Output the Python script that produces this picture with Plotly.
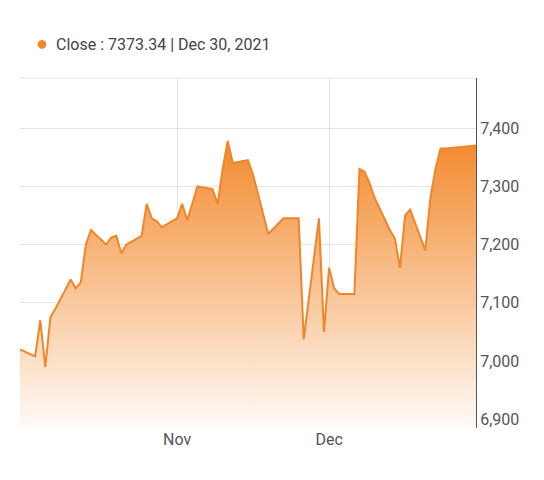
import plotly.graph_objects as go

dates = ["2021-10-01", "2021-10-04", "2021-10-05", "2021-10-06", "2021-10-07", "2021-10-08",
         "2021-10-11", "2021-10-12", "2021-10-13", "2021-10-14", "2021-10-15",
         "2021-10-18", "2021-10-19", "2021-10-20", "2021-10-21", "2021-10-22",
         "2021-10-25", "2021-10-26", "2021-10-27", "2021-10-28", "2021-10-29",
         "2021-11-01", "2021-11-02", "2021-11-03", "2021-11-04", "2021-11-05",
         "2021-11-08", "2021-11-09", "2021-11-10", "2021-11-11", "2021-11-12",
         "2021-11-15", "2021-11-16", "2021-11-19", "2021-11-22", "2021-11-25",
         "2021-11-26", "2021-11-29", "2021-11-30", "2021-12-01", "2021-12-02",
         "2021-12-03", "2021-12-06", "2021-12-07", "2021-12-08", "2021-12-09",
         "2021-12-10", "2021-12-13", "2021-12-14", "2021-12-15", "2021-12-16",
         "2021-12-17", "2021-12-20", "2021-12-21", "2021-12-22", "2021-12-23",
         "2021-12-24", "2021-12-27", "2021-12-28", "2021-12-30"]
close = [7020, 7008, 7070, 6990, 7075, 7090,
         7140, 7125, 7135, 7200, 7225,
         7200, 7212, 7215, 7185, 7200,
         7215, 7270, 7245, 7240, 7230,
         7245, 7270, 7242, 7270, 7300,
         7295, 7270, 7330, 7378, 7340,
         7345, 7320, 7218, 7245, 7245,
         7037, 7245, 7050, 7160, 7125,
         7115, 7115, 7330, 7325, 7305,
         7280, 7225, 7210, 7160, 7250,
         7260, 7190, 7280, 7330, 7365,
         7365, 7368, 7368, 7370]

fig = go.Figure(go.Scatter(
    x=dates, y=close, mode="lines",
    line=dict(color="#f0852a", width=2),
    fill="tozeroy",
    fillgradient=dict(type="vertical", start=6885, stop=7380,
                      colorscale=[[0, "rgba(255,250,246,1)"], [1, "rgba(242,138,46,1)"]]),
    hoverinfo="skip"))

fig.add_annotation(xref="paper", yref="paper", x=0.03, y=1.14, xanchor="left",
                   text="<span style='color:#f0852a;font-size:20px'>●</span>  Close : 7373.34 | Dec 30, 2021",
                   showarrow=False, font=dict(size=16, color="#444"))

fig.update_layout(
    width=544, height=480, plot_bgcolor="white", paper_bgcolor="white",
    margin=dict(l=12, r=76, t=70, b=60, autoexpand=False), showlegend=False,
    font=dict(family="Roboto", size=16, color="#555"),
    xaxis=dict(range=["2021-10-01", "2021-12-30"], tickvals=["2021-10-01", "2021-11-01", "2021-12-01"],
               ticktext=["Oct", "Nov", "Dec"], showgrid=True, gridcolor="#e4e4e4",
               showline=False, zeroline=False, ticks="", automargin=False),
    yaxis=dict(range=[6885, 7486], side="right", tickvals=[6900, 7000, 7100, 7200, 7300, 7400],
               tickformat=",", showgrid=True, gridcolor="#e4e4e4", showline=True, linecolor="#555",
               ticks="", zeroline=False, automargin=False),
)
fig.add_shape(type="line", xref="paper", yref="paper", x0=0, x1=1, y0=1, y1=1,
              line=dict(color="#e4e4e4", width=1))
fig.write_html("out.html")
